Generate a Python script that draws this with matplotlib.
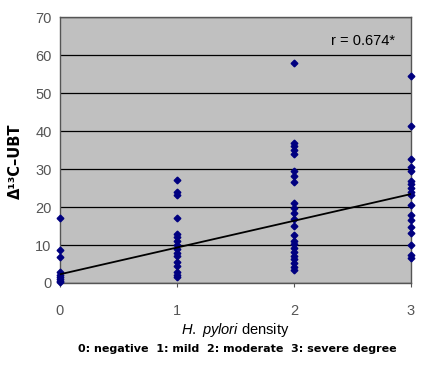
import matplotlib
matplotlib.use('Agg')
from matplotlib import pyplot as plt
from matplotlib import ticker

plt.rcParams['font.family'] = ['Liberation Sans', 'DejaVu Sans']
plt.rcParams['mathtext.fontset'] = 'custom'
plt.rcParams['mathtext.it'] = 'Liberation Sans:italic'
plt.rcParams['mathtext.rm'] = 'Liberation Sans'

# H. pylori density groups and delta 13C-UBT values
ubt_negative = [17.2, 8.8, 6.8, 3.0, 2.2, 1.5, 1.0, 0.5, 0.2]
ubt_mild = [27.2, 24.1, 23.2, 17.1, 13.0, 12.0, 11.0, 10.0, 9.0, 8.0, 7.0, 5.5, 4.5, 3.0, 2.0, 1.5]
ubt_moderate = [58.0, 36.9, 36.0, 35.0, 34.0, 29.4, 28.2, 26.5, 21.0, 19.8, 18.5, 17.0, 15.0,
                12.7, 11.2, 10.2, 9.2, 8.2, 7.2, 6.2, 5.2, 4.2, 3.3]
ubt_severe = [54.5, 41.4, 32.6, 30.7, 29.4, 27.0, 26.0, 25.0, 24.0, 23.2, 20.6, 18.0, 16.6,
              14.8, 13.2, 10.0, 7.4, 6.6]
groups = [0, 1, 2, 3]
group_values = [ubt_negative, ubt_mild, ubt_moderate, ubt_severe]

trend_intercept = 2.3
trend_slope = 7.05
r_label = 'r = 0.674*'
caption = '0: negative  1: mild  2: moderate  3: severe degree'

fig = plt.figure(figsize=(4.33, 3.73), dpi=100)
ax = fig.add_axes([60/433, 90/373, 351/433, 265.5/373])
ax.set_facecolor('#c0c0c0')

for g, vals in zip(groups, group_values):
    ax.plot([g]*len(vals), vals, linestyle='none', marker='D', markersize=3.4,
            color='#000080', clip_on=False, zorder=3)

xs = [groups[0], groups[-1]]
ax.plot(xs, [trend_intercept + trend_slope*x for x in xs], color='black', lw=1.3, zorder=4)

ax.set_xlim(0, 3)
ax.set_ylim(0, 70)
ax.xaxis.set_major_locator(ticker.MultipleLocator(1))
ax.yaxis.set_major_locator(ticker.MultipleLocator(10))
ax.grid(True, axis='y', color='black', lw=0.9)
ax.set_axisbelow(True)
for s in ax.spines.values():
    s.set_color('#555555')
    s.set_linewidth(1.0)
ax.tick_params(axis='x', direction='out', length=3, pad=12, labelsize=10.5, labelcolor='#555555', color='#555555')
ax.tick_params(axis='y', length=0, pad=6, labelsize=10.5, labelcolor='#555555')

ax.set_xlabel(r'$\it{H.\ pylori}$ density', fontsize=10.5, labelpad=2)
fig.text(15/433, 1 - 161/373, 'Δ¹³C–UBT', rotation=90, ha='center', va='center',
         fontsize=10.5, fontweight='bold', family=['DejaVu Sans'])
ax.text(0.955, 0.91, r_label, transform=ax.transAxes, ha='right', va='center', fontsize=10.5)
fig.text(237/433, 1 - 349/373, caption, ha='center', va='center', fontsize=8,
         fontweight='bold', family=['DejaVu Sans'])

fig.savefig('out.png', dpi=100)
